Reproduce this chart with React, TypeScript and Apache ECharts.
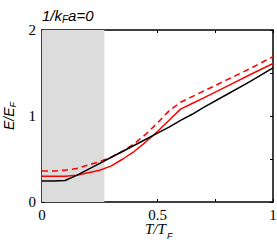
import React, { useEffect, useRef } from "react";
import * as echarts from "echarts";

const tValues = [0, 0.05, 0.1, 0.15, 0.2, 0.25, 0.3, 0.35, 0.4, 0.45, 0.5, 0.55, 0.6, 0.65, 0.7, 0.8, 0.9, 1.0];
const blackE = [0.245, 0.245, 0.25, 0.31, 0.38, 0.45, 0.52, 0.59, 0.66, 0.73, 0.8, 0.87, 0.95, 1.02, 1.1, 1.25, 1.4, 1.56];
const redSolidE = [0.3, 0.3, 0.3, 0.31, 0.34, 0.37, 0.42, 0.5, 0.59, 0.7, 0.82, 0.95, 1.08, 1.145, 1.21, 1.345, 1.48, 1.61];
const redDashedE = [0.36, 0.36, 0.37, 0.39, 0.43, 0.47, 0.52, 0.59, 0.68, 0.79, 0.92, 1.06, 1.16, 1.225, 1.29, 1.42, 1.55, 1.69];
const shadeRange = [0, 0.27];
const xLabelValues = [0, 0.5, 1];
const yLabelValues = [0, 1, 2];

const pairs = (ys: number[]) => tValues.map((t, i) => [t, ys[i]]);

export default function App() {
  const ref = useRef<HTMLDivElement>(null);
  useEffect(() => {
    document.body.style.margin = "0";
    const chart = echarts.init(ref.current!, null, { renderer: "svg" });
    const serif = "Liberation Serif";
    const axisCommon = {
      type: "value" as const,
      axisLine: { show: true, onZero: false, lineStyle: { color: "#000", width: 1.5 } },
      splitLine: { show: false },
    };
    chart.setOption({
      animation: false,
      title: {
        text: "{a|1/k}{s|F}{a|a=0}",
        left: 37,
        top: 1,
        textStyle: {
          rich: {
            a: { fontFamily: "Liberation Sans", fontStyle: "italic", fontWeight: "normal", fontSize: 15, color: "#000" },
            s: { fontFamily: "Liberation Sans", fontStyle: "italic", fontWeight: "normal", fontSize: 10, color: "#000", padding: [8, 0, 0, 0] },
          },
        },
      },
      graphic: [
        {
          type: "text",
          left: 145,
          top: 221,
          style: { text: "T/T", font: "italic 15px 'Liberation Serif'", fill: "#000" },
        },
        {
          type: "text",
          left: 167,
          top: 231,
          style: { text: "F", font: "italic 9px 'Liberation Sans'", fill: "#000" },
        },
      ],
      grid: { left: 42, right: 4, top: 30, bottom: 40, outerBoundsMode: "none", containLabel: false },
      xAxis: [
        {
          ...axisCommon,
          min: 0,
          max: 1,
          interval: 0.25,
          axisTick: { show: true, inside: true, length: 3, lineStyle: { color: "#000", width: 1 } },
          axisLabel: {
            fontFamily: serif,
            fontSize: 15,
            color: "#000",
            margin: 5,
            formatter: (v: number) => (xLabelValues.includes(v) ? String(v) : ""),
          },
        },
        {
          ...axisCommon,
          position: "top",
          min: 0,
          max: 1,
          interval: 0.25,
          axisTick: { show: true, inside: true, length: 3, lineStyle: { color: "#000", width: 1 } },
          axisLabel: { show: false },
        },
      ],
      yAxis: [
        {
          ...axisCommon,
          min: 0,
          max: 2,
          interval: 0.5,
          name: "{a|E/E}{s|F}",
          nameLocation: "middle",
          nameGap: 22,
          nameRotate: 90,
          nameTextStyle: {
            rich: {
              a: { fontFamily: "Liberation Sans", fontStyle: "italic", fontSize: 14, color: "#000" },
              s: { fontFamily: "Liberation Sans", fontStyle: "italic", fontSize: 9, color: "#000", padding: [8, 0, 0, 0] },
            },
          },
          axisTick: { show: true, inside: true, length: 3, lineStyle: { color: "#000", width: 1 } },
          axisLabel: {
            fontFamily: serif,
            fontSize: 15,
            color: "#000",
            margin: 6,
            formatter: (v: number) => (yLabelValues.includes(v) ? String(v) : ""),
          },
        },
        {
          ...axisCommon,
          position: "right",
          min: 0,
          max: 2,
          interval: 0.5,
          axisTick: { show: true, inside: true, length: 3, lineStyle: { color: "#000", width: 1 } },
          axisLabel: { show: false },
        },
      ],
      series: [
        {
          type: "line",
          data: pairs(redDashedE),
          showSymbol: false,
          lineStyle: { color: "#ff0000", width: 1.6, type: [6, 4] },
          markArea: {
            silent: true,
            itemStyle: { color: "#dcdcdc" },
            data: [[{ xAxis: shadeRange[0] }, { xAxis: shadeRange[1] }]],
          },
          z: 3,
        },
        {
          type: "line",
          data: pairs(redSolidE),
          showSymbol: false,
          lineStyle: { color: "#ff0000", width: 1.5 },
          z: 3,
        },
        {
          type: "line",
          data: pairs(blackE),
          showSymbol: false,
          lineStyle: { color: "#000", width: 1.5 },
          z: 4,
        },
      ],
    });
    return () => chart.dispose();
  }, []);
  return <div ref={ref} style={{ width: 277, height: 242 }} />;
}
